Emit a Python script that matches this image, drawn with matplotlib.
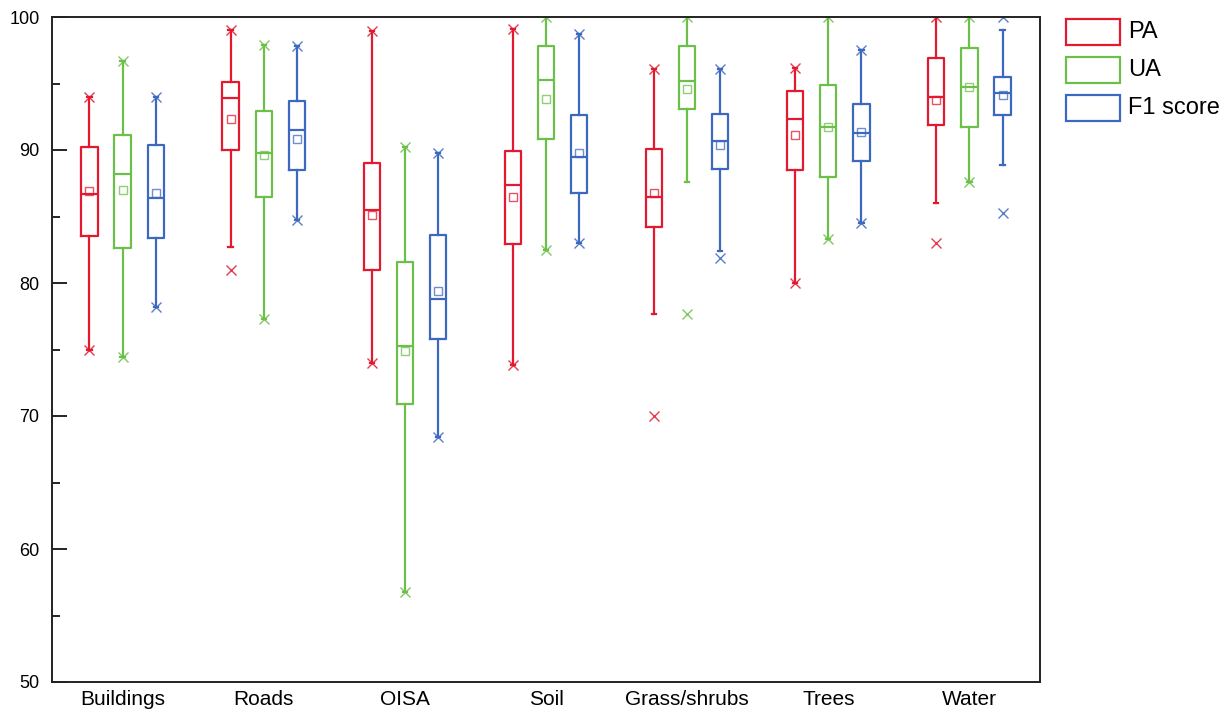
import matplotlib
matplotlib.use("Agg")
import matplotlib.pyplot as plt
from matplotlib.patches import Rectangle
import numpy as np

plt.rcParams['font.family'] = ['Liberation Sans', 'DejaVu Sans']

categories = ["Buildings", "Roads", "OISA", "Soil", "Grass/shrubs", "Trees", "Water"]
series_names = ["PA", "UA", "F1 score"]
colors = ["#E2192F", "#6CC04A", "#3D68C0"]

# Per series: lists over categories
PA_q1    = [83.5, 90.0, 81.0, 82.9, 84.2, 88.5, 91.85]
PA_med   = [86.7, 93.9, 85.5, 87.4, 86.5, 92.3, 94.0]
PA_q3    = [90.2, 95.1, 89.0, 89.95, 90.1, 94.4, 96.9]
PA_mean  = [86.9, 92.3, 85.1, 86.5, 86.8, 91.15, 93.75]
PA_wlo   = [75.0, 82.7, 74.0, 73.8, 77.7, 80.0, 86.0]
PA_whi   = [94.0, 99.0, 98.95, 99.1, 96.1, 96.2, 100.0]
PA_min   = [75.0, 81.0, 74.0, 73.8, 70.0, 80.0, 83.0]
PA_max   = [94.0, 99.0, 98.95, 99.1, 96.1, 96.2, 100.0]

UA_q1    = [82.6, 86.5, 70.9, 90.8, 93.1, 87.95, 91.7]
UA_med   = [88.2, 89.8, 75.3, 95.3, 95.2, 91.7, 94.7]
UA_q3    = [91.1, 92.9, 81.6, 97.8, 97.85, 94.85, 97.65]
UA_mean  = [87.0, 89.6, 74.9, 93.8, 94.6, 91.7, 94.75]
UA_wlo   = [74.4, 77.3, 56.8, 82.5, 87.6, 83.3, 87.6]
UA_whi   = [96.7, 97.9, 90.25, 100.0, 100.0, 100.0, 100.0]
UA_min   = [74.4, 77.3, 56.8, 82.5, 77.7, 83.3, 87.6]
UA_max   = [96.7, 97.9, 90.25, 100.0, 100.0, 100.0, 100.0]

F1_q1    = [83.4, 88.5, 75.8, 86.8, 88.55, 89.15, 92.65]
F1_med   = [86.4, 91.5, 78.8, 89.5, 90.7, 91.3, 94.3]
F1_q3    = [90.4, 93.7, 83.6, 92.6, 92.7, 93.45, 95.5]
F1_mean  = [86.8, 90.8, 79.4, 89.8, 90.4, 91.35, 94.15]
F1_wlo   = [78.2, 84.7, 68.4, 83.0, 82.4, 84.5, 88.9]
F1_whi   = [94.0, 97.85, 89.75, 98.7, 96.1, 97.5, 99.0]
F1_min   = [78.2, 84.7, 68.4, 83.0, 81.85, 84.5, 85.25]
F1_max   = [94.0, 97.85, 89.75, 98.7, 96.1, 97.5, 100.0]

series = [
    (PA_q1, PA_med, PA_q3, PA_mean, PA_wlo, PA_whi, PA_min, PA_max),
    (UA_q1, UA_med, UA_q3, UA_mean, UA_wlo, UA_whi, UA_min, UA_max),
    (F1_q1, F1_med, F1_q3, F1_mean, F1_wlo, F1_whi, F1_min, F1_max),
]

W, H = 1227, 712
fig = plt.figure(figsize=(W / 100, H / 100), dpi=100)
ax = fig.add_axes([52 / W, 30 / H, (1040 - 52) / W, (682 - 17) / H])

offsets = [-0.235, 0.0, 0.235]
box_w = 0.115
base = np.arange(1, len(categories) + 1)

for s, (q1, med, q3, mean, wlo, whi, mn, mx) in enumerate(series):
    c = colors[s]
    stats = []
    for i in range(len(categories)):
        stats.append(dict(q1=q1[i], med=med[i], q3=q3[i], mean=mean[i],
                          whislo=wlo[i], whishi=whi[i],
                          fliers=[mn[i], mx[i]]))
    ax.bxp(stats, positions=base + offsets[s], widths=box_w,
           capwidths=0.03, showmeans=True, meanline=False,
           patch_artist=False, manage_ticks=False,
           boxprops=dict(color=c, linewidth=1.6),
           medianprops=dict(color=c, linewidth=1.6),
           whiskerprops=dict(color=c, linewidth=1.6),
           capprops=dict(color=c, linewidth=1.6),
           meanprops=dict(marker='s', markersize=6, markerfacecolor='none',
                          markeredgecolor=c, markeredgewidth=1.0, alpha=0.75),
           flierprops=dict(marker='x', markersize=7, markeredgecolor=c,
                           markeredgewidth=1.0, alpha=0.85))

ax.set_xlim(0.5, 7.5)
ax.set_ylim(50, 100)
ax.set_xticks(base)
ax.set_xticklabels(categories, fontsize=15)
ax.tick_params(axis='x', length=0, pad=6)
ax.set_yticks([50, 60, 70, 80, 90, 100])
ax.set_yticks([55, 65, 75, 85, 95], minor=True)
ax.tick_params(axis='y', which='major', direction='in', length=11, width=1.2,
               labelsize=13, pad=9)
ax.tick_params(axis='y', which='minor', direction='in', length=6, width=1.2)
for sp in ax.spines.values():
    sp.set_linewidth(1.4)
    sp.set_color('#222222')

# manual legend (pixel positions)
leg_x = 1066
leg_rows = [19, 57, 95]
for name, c, y in zip(series_names, colors, leg_rows):
    r = Rectangle((leg_x / W, 1 - (y + 26) / H), 54 / W, 26 / H,
                  transform=fig.transFigure, facecolor='white',
                  edgecolor=c, linewidth=1.6)
    fig.add_artist(r)
    fig.text(1128 / W, 1 - (y + 13) / H, name, fontsize=17,
             va='center', ha='left')

fig.savefig("out.png", dpi=100)
